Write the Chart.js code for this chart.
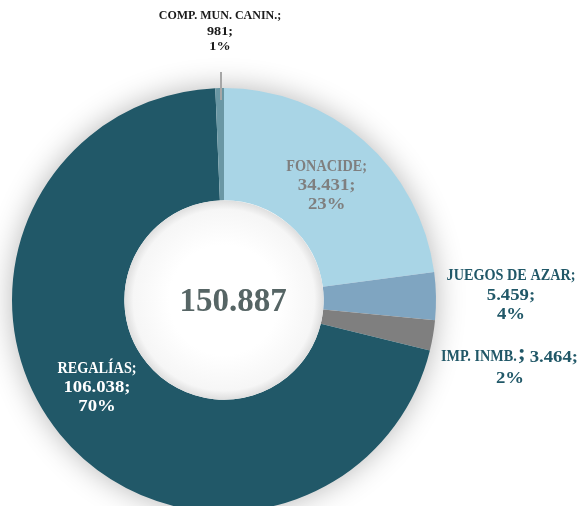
<!DOCTYPE html>
<html>
<head>
<meta charset="utf-8">
<script src="https://cdn.jsdelivr.net/npm/chart.js@4.4.1/dist/chart.umd.min.js"></script>
<style>
html,body{margin:0;padding:0;background:#fff;overflow:hidden;}
#wrap{position:relative;width:581px;height:520px;}
</style>
</head>
<body>
<div id="wrap"><canvas id="c"></canvas></div>
<script>
const categories = ['FONACIDE', 'JUEGOS DE AZAR', 'IMP. INMB.', 'REGALÍAS', 'COMP. MUN. CANIN.'];
const values = [34431, 5459, 3464, 106038, 981];
const percents = ['23%', '4%', '2%', '70%', '1%'];
const totalLabel = '150.887';

const colors = ['#A9D5E6', '#7FA5C1', '#7F7F7F', '#215868', '#6A97A4'];
const labelColors = ['#7F7F7F', '#215868', '#215868', '#FFFFFF', '#1A1A1A'];
const FONT = '"Liberation Serif", "DejaVu Serif", serif';

function fmt(v){ return v.toString().replace(/\B(?=(\d{3})+(?!\d))/g, '.'); }

const labelPlugin = {
  id: 'labels',
  beforeDatasetsDraw(chart){
    const ctx = chart.ctx;
    const a = chart.getDatasetMeta(0).data[0];
    ctx.save();
    ctx.shadowColor = 'rgba(0,0,0,0.30)';
    ctx.shadowBlur = 30;
    ctx.fillStyle = '#ffffff';
    ctx.beginPath();
    ctx.arc(a.x, a.y, a.outerRadius - 1, 0, Math.PI * 2);
    ctx.fill();
    ctx.restore();
  },
  afterDatasetsDraw(chart){
    const ctx = chart.ctx;
    const meta = chart.getDatasetMeta(0);
    const arc0 = meta.data[0];
    const cx = arc0.x, cy = arc0.y;
    ctx.save();
    // hole shading
    const ir = arc0.innerRadius;
    const g = ctx.createRadialGradient(cx, cy, ir * 0.55, cx, cy, ir);
    g.addColorStop(0, '#ffffff');
    g.addColorStop(0.8, '#f6f6f6');
    g.addColorStop(1, '#dedede');
    ctx.fillStyle = g;
    ctx.beginPath();
    ctx.arc(cx, cy, ir, 0, Math.PI * 2);
    ctx.fill();

    ctx.textAlign = 'center';
    ctx.textBaseline = 'middle';
    // leader line for small slice
    ctx.strokeStyle = '#A6A6A6';
    ctx.lineWidth = 2;
    ctx.beginPath();
    ctx.moveTo(cx - 3, 72);
    ctx.lineTo(cx - 3, 100);
    ctx.stroke();

    const text = (t, x, y, size, sx) => {
      ctx.save();
      ctx.font = 'bold ' + size + 'px ' + FONT;
      ctx.translate(x, y);
      ctx.scale(sx, 1);
      ctx.fillText(t, 0, 0);
      const w = ctx.measureText(t).width * sx;
      ctx.restore();
      return w;
    };
    const draw = (i, x, y, lh) => {
      ctx.fillStyle = labelColors[i];
      text(categories[i] + ';', x, y, 16, 0.89);
      text(fmt(values[i]) + ';', x, y + lh, 17.5, 1.07);
      text(percents[i], x, y + 2 * lh, 17.5, 1.07);
    };
    // inside labels positioned by arc geometry
    [0, 3].forEach(i => {
      const a = meta.data[i];
      const mid = (a.startAngle + a.endAngle) / 2;
      const r = (a.innerRadius + a.outerRadius) / 2;
      const off = i === 0 ? 0 : 0.09;
      const x = cx + Math.cos(mid + off) * r;
      const y = cy + Math.sin(mid + off) * r;
      draw(i, x + (i === 3 ? 2 : 0), y - (i === 0 ? 16 : 19), 19);
    });
    draw(1, 511, 276, 19);
    ctx.fillStyle = labelColors[2];
    ctx.textAlign = 'right';
    text(fmt(values[2]) + ';', 578, 357, 17.5, 1.07);
    ctx.textAlign = 'left';
    const w = text(categories[2], 441, 357, 16, 0.89);
    ctx.font = 'bold 24px ' + FONT;
    ctx.fillText(';', 441 + w + 1, 354);
    ctx.textAlign = 'center';
    text(percents[2], 510, 378, 17.5, 1.07);

    ctx.fillStyle = labelColors[4];
    text(categories[4] + ';', cx - 4, 16, 12.5, 0.96);
    text(fmt(values[4]) + ';', cx - 4, 32, 13.5, 1.05);
    text(percents[4], cx - 4, 47, 13.5, 1.05);

    ctx.fillStyle = '#566565';
    ctx.font = 'bold 33px ' + FONT;
    ctx.fillText(totalLabel, cx + 9, cy + 2);
    ctx.restore();
  }
};

new Chart(document.getElementById('c'), {
  type: 'doughnut',
  data: {
    labels: categories,
    datasets: [{
      data: values,
      backgroundColor: colors,
      borderWidth: 0
    }]
  },
  options: {
    responsive: true,
    maintainAspectRatio: false,
    animation: false,
    cutout: '47%',
    layout: { padding: { left: 12, top: 88, right: 145, bottom: 8 } },
    plugins: { legend: { display: false }, tooltip: { enabled: false } }
  },
  plugins: [labelPlugin]
});
</script>
</body>
</html>
